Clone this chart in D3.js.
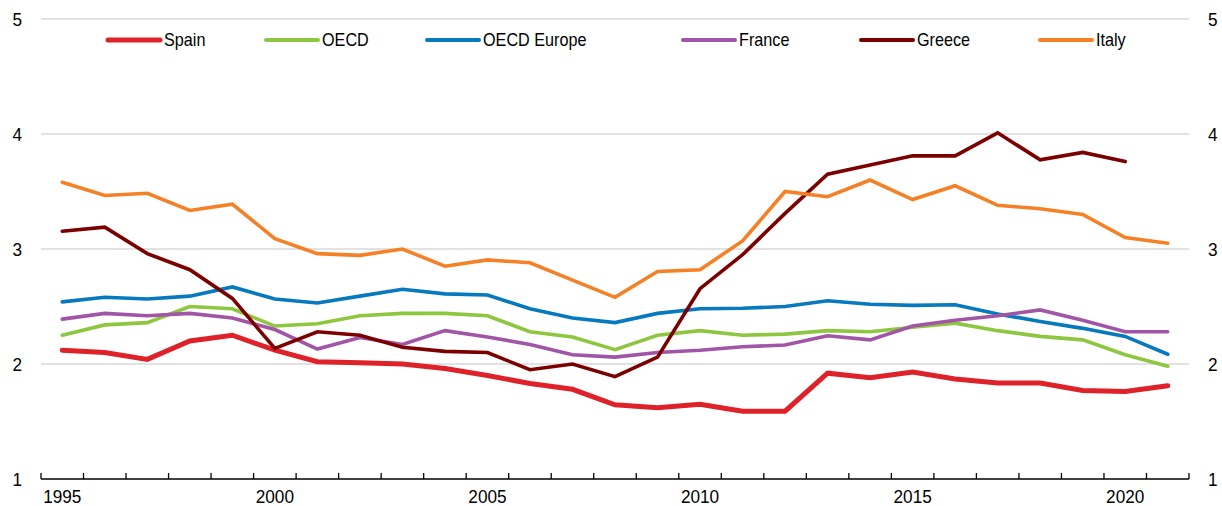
<!DOCTYPE html>
<html>
<head>
<meta charset="utf-8">
<script src="https://cdn.jsdelivr.net/npm/d3@7"></script>
<style>
  html, body { margin: 0; padding: 0; background: #fff; }
  svg { display: block; font-family: "Liberation Sans", Arial, sans-serif; }
</style>
</head>
<body>
<svg id="chart" width="1222" height="506"></svg>
<script>
const years = [1995,1996,1997,1998,1999,2000,2001,2002,2003,2004,2005,2006,2007,2008,2009,2010,2011,2012,2013,2014,2015,2016,2017,2018,2019,2020,2021];
const xTickLabels = [1995, 2000, 2005, 2010, 2015, 2020];
const yTicks = [1, 2, 3, 4, 5];
const seriesNames = ["Spain", "OECD", "OECD Europe", "France", "Greece", "Italy"];

const spain      = [2.12,2.10,2.04,2.20,2.25,2.12,2.02,2.01,2.00,1.96,1.90,1.83,1.78,1.645,1.62,1.65,1.59,1.59,1.92,1.88,1.93,1.87,1.835,1.835,1.77,1.76,1.81];
const oecd       = [2.25,2.34,2.36,2.50,2.48,2.33,2.35,2.42,2.44,2.44,2.42,2.28,2.235,2.125,2.25,2.29,2.25,2.26,2.29,2.28,2.32,2.355,2.29,2.24,2.21,2.08,1.98];
const oecdEurope = [2.54,2.58,2.565,2.59,2.67,2.565,2.53,2.59,2.65,2.61,2.60,2.48,2.40,2.36,2.44,2.48,2.485,2.50,2.55,2.52,2.51,2.515,2.435,2.37,2.31,2.24,2.085];
const france     = [2.39,2.44,2.42,2.44,2.40,2.30,2.13,2.23,2.17,2.29,2.235,2.17,2.08,2.06,2.10,2.12,2.15,2.165,2.245,2.21,2.33,2.38,2.42,2.47,2.38,2.28,2.28];
const greece     = [3.155,3.19,2.96,2.82,2.57,2.135,2.28,2.25,2.145,2.11,2.10,1.95,2.00,1.89,2.06,2.655,2.95,3.31,3.65,3.73,3.81,3.81,4.01,3.775,3.84,3.76,null];
const italy      = [3.58,3.465,3.485,3.335,3.39,3.09,2.96,2.945,3.00,2.85,2.905,2.88,2.73,2.58,2.805,2.82,3.07,3.50,3.455,3.60,3.43,3.55,3.38,3.35,3.30,3.10,3.05];

const seriesValues = [spain, oecd, oecdEurope, france, greece, italy];
const colors = ["#DF2229", "#8DC63F", "#0779BF", "#A155A6", "#7B0000", "#F58025"];
const widths = [5, 3.6, 3.6, 3.6, 3.6, 3.6];

const svg = d3.select("#chart");
const plotLeft = 41, plotRight = 1189, plotTop = 19, plotBottom = 479;

const x = d3.scaleBand().domain(years).range([plotLeft, plotRight]).padding(0);
const y = d3.scaleLinear().domain([1, 5]).range([plotBottom, plotTop]);
const cx = d => x(d) + x.bandwidth() / 2;

// helper: condensed text like the reference rendering
function label(parent, tx, ty, str, opts) {
  const g = parent.append("g")
    .attr("transform", `translate(${tx},${ty}) scale(${opts.sx},1)`);
  g.append("text")
    .attr("x", 0).attr("y", 0)
    .attr("dy", opts.dy || "0")
    .attr("text-anchor", opts.anchor || "start")
    .attr("font-size", opts.size)
    .attr("fill", "#000")
    .text(str);
}

// gridlines
svg.append("g").selectAll("line")
  .data(yTicks.filter(t => t > 1))
  .join("line")
  .attr("x1", plotLeft).attr("x2", plotRight)
  .attr("y1", d => y(d)).attr("y2", d => y(d))
  .attr("stroke", "#d9d9d9").attr("stroke-width", 1.5);

// left / right y labels
const yLab = svg.append("g");
yTicks.forEach(t => {
  label(yLab, 22, y(t), t, { sx: 0.93, size: 18.5, anchor: "end", dy: "0.36em" });
  label(yLab, 1208, y(t), t, { sx: 0.93, size: 18.5, anchor: "start", dy: "0.36em" });
});

// x axis
const xAxis = svg.append("g");
xAxis.append("line")
  .attr("x1", plotLeft).attr("x2", plotRight)
  .attr("y1", plotBottom).attr("y2", plotBottom)
  .attr("stroke", "#000").attr("stroke-width", 1.5);
const boundaries = years.map(d => x(d)).concat([plotRight]);
xAxis.selectAll("line.tick").data(boundaries).join("line")
  .attr("class", "tick")
  .attr("x1", d => d).attr("x2", d => d)
  .attr("y1", plotBottom).attr("y2", plotBottom - 6)
  .attr("stroke", "#000").attr("stroke-width", 1.3);
xTickLabels.forEach(t => {
  label(xAxis, cx(t), 503, t, { sx: 0.93, size: 18.5, anchor: "middle" });
});

// lines
const line = d3.line()
  .defined(d => d.v != null)
  .x(d => cx(d.year))
  .y(d => y(d.v));

seriesNames.forEach((name, i) => {
  const data = years.map((yr, j) => ({ year: yr, v: seriesValues[i][j] }));
  svg.append("path")
    .datum(data)
    .attr("d", line)
    .attr("fill", "none")
    .attr("stroke", colors[i])
    .attr("stroke-width", widths[i])
    .attr("stroke-linejoin", "miter")
    .attr("stroke-linecap", "round");
});

// legend
const legendX = [108, 266, 427, 683, 861, 1040];
const legend = svg.append("g");
seriesNames.forEach((name, i) => {
  legend.append("line")
    .attr("x1", legendX[i]).attr("x2", legendX[i] + 52)
    .attr("y1", 40).attr("y2", 40)
    .attr("stroke", colors[i]).attr("stroke-width", i === 0 ? 5 : 4)
    .attr("stroke-linecap", "round");
  label(legend, legendX[i] + 56, 40, name, { sx: 0.9, size: 18, anchor: "start", dy: "0.36em" });
});
</script>
</body>
</html>
